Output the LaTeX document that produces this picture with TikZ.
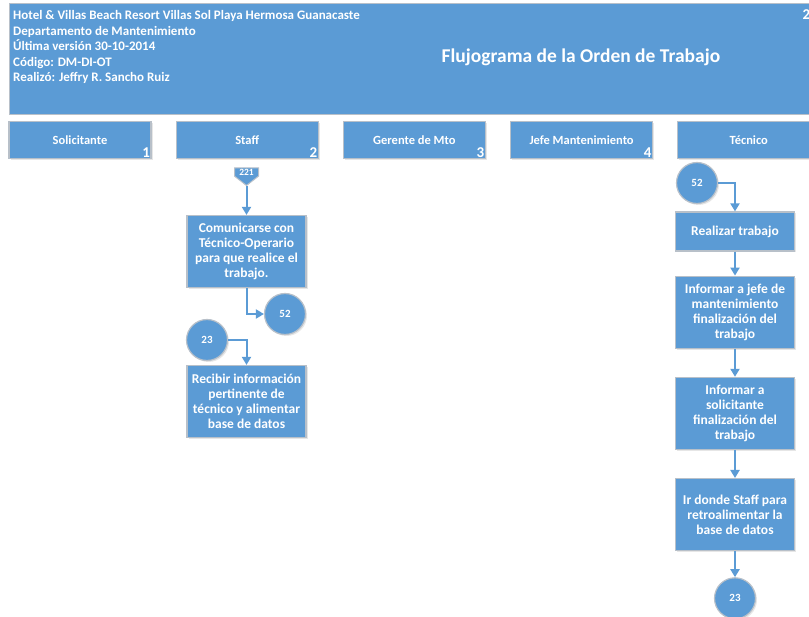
\documentclass[tikz,border=0pt]{standalone}
\usepackage{fontspec}
\setmainfont{Carlito}
\usepackage{xcolor}
\usetikzlibrary{arrows.meta,shapes.symbols,positioning,shadows}
\definecolor{ofblue}{HTML}{5B9BD5}
\definecolor{ofline}{HTML}{B8C0C9}

\begin{document}
\begin{tikzpicture}[x=1pt,y=-1pt,
    head/.style={draw=ofline,fill=ofblue,line width=1.2pt},
    lane/.style={draw=ofline,fill=ofblue,line width=1.2pt,minimum width=142pt,minimum height=37pt,
      text=white,font=\bfseries\fontsize{12.5}{14}\selectfont,drop shadow={shadow xshift=1.5pt,shadow yshift=-1.5pt,opacity=0.2}},
    box/.style={draw=ofline,fill=ofblue,line width=1.2pt,minimum width=119pt,minimum height=72pt,
      align=center,text=white,font=\bfseries\fontsize{13.5}{15}\selectfont,
      drop shadow={shadow xshift=1.5pt,shadow yshift=-1.5pt,opacity=0.2}},
    conn/.style={circle,draw=ofline,fill=ofblue,line width=1.2pt,minimum size=41pt,inner sep=0pt,
      text=white,font=\bfseries\fontsize{11}{12}\selectfont,drop shadow={shadow xshift=1.5pt,shadow yshift=-1.5pt,opacity=0.2}},
    num/.style={text=white,font=\bfseries\fontsize{15}{15}\selectfont,inner sep=1.5pt},
    flow/.style={draw=ofblue,line width=2pt,-{Triangle[width=9pt,length=8pt]}}]
  \useasboundingbox (0,0) rectangle (809,617);

  % banner
  \node[head,minimum width=830pt,minimum height=111pt,anchor=north west] (banner) at (9,3) {};
  \node[anchor=north west,align=left,text=white,inner sep=0pt,
    font=\bfseries\fontsize{13}{15.5}\selectfont] (info) at (13,10.5)
    {Hotel \& Villas Beach Resort Villas Sol Playa Hermosa Guanacaste\\
     Departamento de Mantenimiento\\
     Última versión 30-10-2014\\
     Código: DM-DI-OT\\
     Realizó: Jeffry R. Sancho Ruiz};
  \node[text=white,font=\bfseries\fontsize{19.5}{22}\selectfont] (title) at (581,57) {Flujograma de la Orden de Trabajo};
  \node[num,anchor=west] (pg) at (801,15) {2};

  % lanes
  \node[lane] (sol) at (80,140) {Solicitante};
  \node[lane,right=24pt of sol] (stf) {Staff};
  \node[lane,right=24pt of stf] (ger) {Gerente de Mto};
  \node[lane,right=24pt of ger] (jef) {Jefe Mantenimiento};
  \node[lane,right=24pt of jef] (tec) {Técnico};
  \foreach \l/\n in {sol/1,stf/2,ger/3,jef/4,tec/5}
    \node[num,anchor=south east] at (\l.south east) {\n};

  % Staff
  \node[signal,signal to=south,signal pointer angle=104,draw=ofline,fill=ofblue,line width=1pt,
    minimum width=24pt,minimum height=14pt,inner sep=1pt,text=white,
    font=\bfseries\fontsize{9.5}{10}\selectfont] (p221) at (246.5,172) {221};
  \node[box] (com) at (246.5,251.5) {Comunicarse con\\Técnico-Operario\\para que realice el\\trabajo.};
  \node[conn] (s52) at (285,314) {52};
  \node[conn] (s23) at (207,340) {23};
  \node[box] (rec) at (246.5,401.5) {Recibir información\\pertinente de\\técnico y alimentar\\base de datos};
  \draw[flow] (p221.south) -- (com.north);
  \draw[flow] (com.south) |- (s52);
  \draw[flow] (s23) -| (rec.north);

  % Tecnico
  \node[conn] (t52) at (697,183) {52};
  \node[box,minimum height=39pt] (rea) at (735,231.5) {Realizar trabajo};
  \node[box,below=24pt of rea] (inf1) {Informar a jefe de\\mantenimiento\\finalización del\\trabajo};
  \node[box,below=28pt of inf1] (inf2) {Informar a\\solicitante\\finalización del\\trabajo};
  \node[box,below=28pt of inf2] (ir) {Ir donde Staff para\\retroalimentar la\\base de datos};
  \node[conn,below=26pt of ir] (t23) {23};
  \draw[flow] (t52) -| (rea.north);
  \draw[flow] (rea) -- (inf1);
  \draw[flow] (inf1) -- (inf2);
  \draw[flow] (inf2) -- (ir);
  \draw[flow] (ir) -- (t23);
\end{tikzpicture}
\end{document}
